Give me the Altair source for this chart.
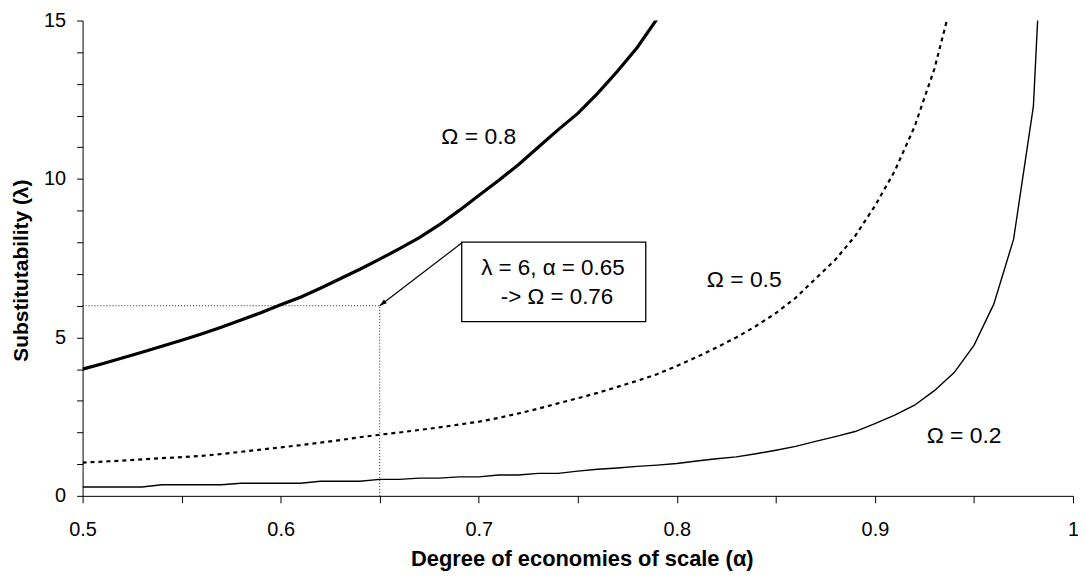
import math
import altair as alt
import pandas as pd

# ---------------- data ----------------
alpha = [0.50, 0.51, 0.52, 0.53, 0.54, 0.55, 0.56, 0.57, 0.58, 0.59,
         0.60, 0.61, 0.62, 0.63, 0.64, 0.65, 0.66, 0.67, 0.68, 0.69,
         0.70, 0.71, 0.72, 0.73, 0.74, 0.75, 0.76, 0.77, 0.78, 0.79,
         0.80, 0.81, 0.82, 0.83, 0.84, 0.85, 0.86, 0.87, 0.88, 0.89,
         0.90, 0.91, 0.92, 0.93, 0.94, 0.95, 0.96, 0.97, 0.98, 0.99]

# Omega = 0.2 (thin solid)
lam_o2 = [0.28, 0.28, 0.28, 0.28, 0.35, 0.35, 0.35, 0.35, 0.40, 0.40,
          0.40, 0.40, 0.46, 0.46, 0.46, 0.52, 0.52, 0.56, 0.56, 0.60,
          0.60, 0.66, 0.66, 0.71, 0.71, 0.78, 0.84, 0.88, 0.93, 0.97,
          1.02, 1.10, 1.17, 1.23, 1.33, 1.44, 1.56, 1.72, 1.87, 2.03,
          2.28, 2.55, 2.86, 3.32, 3.89, 4.75, 6.05, 8.10, 12.30, 25.0]

# Omega = 0.5 (dashed)
lam_o5 = [1.05, 1.08, 1.11, 1.15, 1.19, 1.22, 1.26, 1.32, 1.39, 1.46,
          1.53, 1.60, 1.68, 1.76, 1.85, 1.93, 2.00, 2.08, 2.16, 2.25,
          2.34, 2.46, 2.60, 2.75, 2.92, 3.08, 3.25, 3.44, 3.63, 3.84,
          4.10, 4.38, 4.68, 5.00, 5.36, 5.77, 6.25, 6.85, 7.45, 8.20,
          9.15, 10.25, 11.65, 13.47, 15.90]

# Omega = 0.8 (thick solid)
lam_o8 = [4.00, 4.17, 4.35, 4.53, 4.72, 4.91, 5.11, 5.32, 5.55, 5.78,
          6.03, 6.27, 6.55, 6.85, 7.15, 7.47, 7.80, 8.15, 8.55, 9.00,
          9.48, 9.95, 10.45, 11.00, 11.55, 12.07, 12.70, 13.40, 14.15, 15.05,
          16.00]

curve_labels = ["Ω = 0.8", "Ω = 0.5", "Ω = 0.2"]
curve_label_x = [0.700, 0.834, 0.945]
curve_label_y = [11.09, 6.58, 1.67]

# reference point of the annotation
ref_alpha = 0.65
ref_lambda = 6.0

# annotation box (data units) and its text
box_x = [0.6914, 0.7843]
box_y = [5.50, 8.01]
box_text = ["λ = 6, α = 0.65", "-> Ω = 0.76"]
box_text_x = [0.7374, 0.7395]
box_text_y = [6.96, 6.07]

# arrow start (box corner) -> end (reference point)
arrow_start = [0.6914, 7.98]

x_ticks = [0.50, 0.55, 0.60, 0.65, 0.70, 0.75, 0.80, 0.85, 0.90, 0.95, 1.00]
y_ticks = list(range(0, 16))

# ---------------- chart ----------------
W, H = 996, 478
FONT = "Liberation Sans"

xs = alt.Scale(domain=[0.5, 1.0], nice=False, zero=False)
ys = alt.Scale(domain=[0, 15], nice=False)

x_axis = alt.Axis(
    values=x_ticks, title="Degree of economies of scale (α)",
    labelExpr="round(datum.value*100) % 10 == 0 ? format(datum.value, '.1~f') : ''",
    labelOverlap=False, labelFlush=False, grid=False,
    tickSize=7, labelPadding=17, labelFontSize=20, labelFont=FONT,
    titleFont=FONT, titleFontSize=22, titleFontWeight="bold",
    titleX=502, titleY=70, titleBaseline="alphabetic", titleAlign="center",
    domainColor="black", tickColor="black", labelColor="black", titleColor="black",
)
y_axis = alt.Axis(
    values=y_ticks, title="Substitutability (λ)",
    labelExpr="datum.value % 5 == 0 ? datum.label : ''",
    labelOverlap=False, labelFlush=False, grid=False,
    tickSize=6, labelPadding=11, labelFontSize=20, labelFont=FONT,
    titleFont=FONT, titleFontSize=21, titleFontWeight="bold",
    titleX=-55, titleY=251, titleAngle=-90, titleBaseline="alphabetic", titleAlign="center",
    domainColor="black", tickColor="black", labelColor="black", titleColor="black",
)


def X(field):
    return alt.X(field, scale=xs, axis=x_axis)


def Y(field):
    return alt.Y(field, scale=ys, axis=y_axis)


df2 = pd.DataFrame({"a": alpha[:len(lam_o2)], "l": lam_o2})
df5 = pd.DataFrame({"a": alpha[:len(lam_o5)], "l": lam_o5})
df8 = pd.DataFrame({"a": alpha[:len(lam_o8)], "l": lam_o8})

line2 = alt.Chart(df2).mark_line(color="black", strokeWidth=1.4, clip=True).encode(
    x=X("a:Q"), y=Y("l:Q"))
line5 = alt.Chart(df5).mark_line(color="black", strokeWidth=2.2, strokeDash=[4, 4], clip=True).encode(
    x=X("a:Q"), y=Y("l:Q"))
line8 = alt.Chart(df8).mark_line(color="black", strokeWidth=3.2, clip=True).encode(
    x=X("a:Q"), y=Y("l:Q"))

# dotted guide lines
guide_df = pd.DataFrame({
    "x": [alpha[0], ref_alpha], "y": [ref_lambda, 0.0],
    "x2": [ref_alpha, ref_alpha], "y2": [ref_lambda, ref_lambda],
})
guides = alt.Chart(guide_df).mark_rule(color="#222", strokeWidth=1, strokeDash=[1, 2]).encode(
    x=X("x:Q"), y=Y("y:Q"), x2="x2:Q", y2="y2:Q")

# labels on curves
lab_df = pd.DataFrame({"t": curve_labels, "x": curve_label_x, "y": curve_label_y})
labels = alt.Chart(lab_df).mark_text(font=FONT, fontSize=23, color="black", align="center",
                                     baseline="alphabetic").encode(
    x=X("x:Q"), y=Y("y:Q"), text="t:N")

# annotation box
box_df = pd.DataFrame({"x": [box_x[0]], "x2": [box_x[1]], "y": [box_y[0]], "y2": [box_y[1]]})
box = alt.Chart(box_df).mark_rect(fill="white", stroke="black", strokeWidth=1.3).encode(
    x=X("x:Q"), x2="x2:Q", y=Y("y:Q"), y2="y2:Q")

bt_df = pd.DataFrame({"t": box_text, "x": box_text_x, "y": box_text_y})
box_txt = alt.Chart(bt_df).mark_text(font=FONT, fontSize=22.5, color="black", align="center",
                                     baseline="alphabetic").encode(
    x=X("x:Q"), y=Y("y:Q"), text="t:N")

# arrow
arr_df = pd.DataFrame({"x": [arrow_start[0]], "y": [arrow_start[1]],
                       "x2": [ref_alpha], "y2": [ref_lambda]})
arrow_line = alt.Chart(arr_df).mark_rule(color="black", strokeWidth=1.2).encode(
    x=X("x:Q"), y=Y("y:Q"), x2="x2:Q", y2="y2:Q")

px_per_x = W / 0.5
px_per_y = H / 15.0
dx = (ref_alpha - arrow_start[0]) * px_per_x
dy = -(ref_lambda - arrow_start[1]) * px_per_y
ang = (math.degrees(math.atan2(dx, -dy)) + 360) % 360

head_df = pd.DataFrame({"x": [ref_alpha], "y": [ref_lambda]})
arrow_head = alt.Chart(head_df).mark_point(
    shape="M0,0 L0.5,1.5 L-0.5,1.5 Z", size=90, filled=True, color="black", opacity=1,
    angle=ang).encode(x=X("x:Q"), y=Y("y:Q"))

chart = alt.layer(guides, line2, line5, line8, arrow_line, arrow_head, box, box_txt, labels).properties(
    width=W, height=H,
    autosize=alt.AutoSizeParams(type="none"),
    padding={"left": 75, "top": 11, "right": 5, "bottom": 80},
    background="white",
).configure_view(stroke=None).configure_axis(labelOverlap=False)

chart.save("out.html", embed_options={"renderer": "svg", "actions": False})
